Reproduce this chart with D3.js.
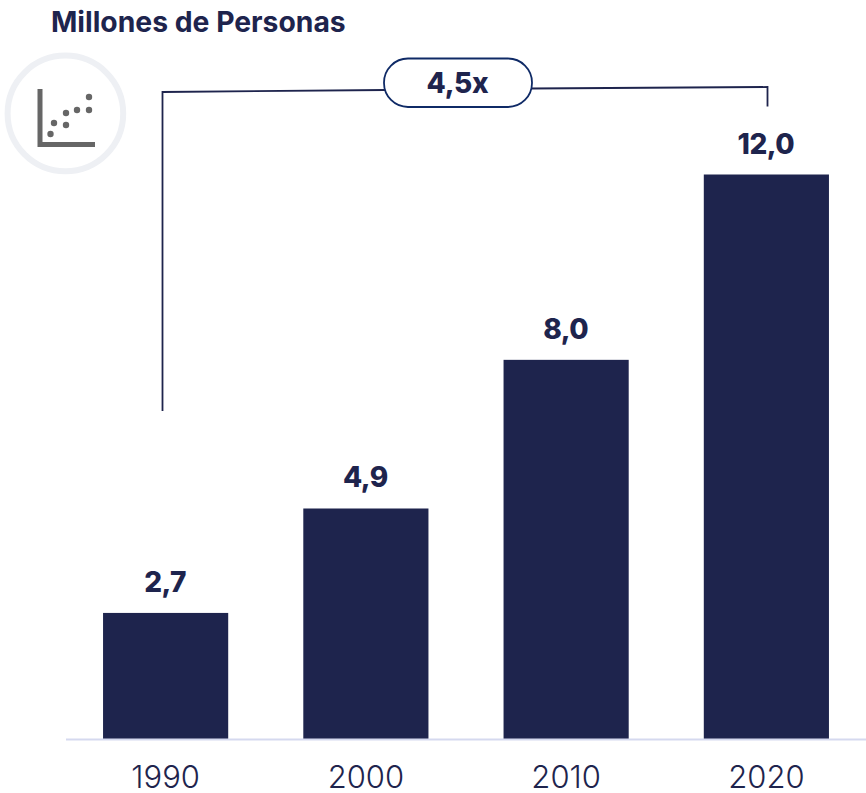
<!DOCTYPE html>
<html>
<head>
<meta charset="utf-8">
<script src="https://cdn.jsdelivr.net/npm/d3@7"></script>
<style>
  html, body { margin: 0; padding: 0; background: #fff; }
  svg { display: block; font-family: Inter, "Noto Sans", sans-serif; }
</style>
</head>
<body>
<div id="wrapper"></div>
<script>
const years = ['1990', '2000', '2010', '2020'];
const values = [2.68, 4.9, 8.06, 12.0];
const valueLabels = ['2,7', '4,9', '8,0', '12,0'];
const chartTitle = 'Millones de Personas';
const multipleLabel = '4,5x';

const navy = '#1e244d';
const width = 866;
const height = 793;
const baseline = 739;

const svg = d3.select('#wrapper')
  .append('svg')
  .attr('width', width)
  .attr('height', height);

// schalen
const xscale = d3.scaleBand()
  .domain(years)
  .range([65.5, 866.5])
  .paddingInner(0.375)
  .paddingOuter(0.1875);

const yscale = d3.scaleLinear()
  .domain([0, 12])
  .range([baseline, 174.5]);

const rows = years.map((year, i) => ({year, value: values[i], label: valueLabels[i]}));

// titel
svg.append('text')
  .attr('x', 51)
  .attr('y', 32)
  .attr('font-size', 28.3)
  .attr('font-weight', 700)
  .attr('fill', navy)
  .text(chartTitle);

// icoon
const icon = svg.append('g');
icon.append('circle')
  .attr('cx', 65.4).attr('cy', 113.4).attr('r', 57.8)
  .attr('fill', 'none').attr('stroke', '#eef0f4').attr('stroke-width', 6);
icon.append('path')
  .attr('d', 'M40 89V144.5H95')
  .attr('fill', 'none').attr('stroke', '#666').attr('stroke-width', 5);
icon.selectAll('circle.dot')
  .data([[50.5, 134], [54, 123], [66, 125], [66, 113], [77, 110], [89, 110], [89, 97]])
  .join('circle')
  .attr('class', 'dot')
  .attr('cx', d => d[0]).attr('cy', d => d[1]).attr('r', 3.2)
  .attr('fill', '#666');

// balken
svg.selectAll('rect.bar')
  .data(rows)
  .join('rect')
  .attr('class', 'bar')
  .attr('x', d => xscale(d.year))
  .attr('y', d => yscale(d.value))
  .attr('width', xscale.bandwidth())
  .attr('height', d => baseline - yscale(d.value))
  .attr('fill', navy);

// waarden boven de balken
svg.selectAll('text.value')
  .data(rows)
  .join('text')
  .attr('class', 'value')
  .attr('x', d => xscale(d.year) + xscale.bandwidth() / 2 - 0.5)
  .attr('y', d => yscale(d.value) - 21)
  .attr('text-anchor', 'middle')
  .attr('font-size', 28)
  .attr('font-weight', 800)
  .attr('letter-spacing', '-0.5')
  .attr('fill', navy)
  .text(d => d.label);

// x-as
const xaxis = d3.axisBottom(xscale).tickSize(0).tickPadding(27);
const g_xaxis = svg.append('g')
  .attr('transform', `translate(0,${baseline})`)
  .call(xaxis);
g_xaxis.select('.domain')
  .attr('stroke', '#d5d9ef')
  .attr('stroke-width', 2);
g_xaxis.selectAll('text')
  .attr('font-family', 'Inter, "Noto Sans", sans-serif')
  .attr('font-size', 31)
  .attr('font-weight', 300)
  .attr('fill', navy);

// haak met de vermenigvuldiging
const bracket = svg.append('g')
  .attr('fill', 'none')
  .attr('stroke', navy)
  .attr('stroke-width', 1.8);
bracket.append('path').attr('d', 'M162.5 411V92L385 90');
bracket.append('path').attr('d', 'M531 88.5L767.5 87V106.5');

svg.append('rect')
  .attr('x', 384).attr('y', 58.5)
  .attr('width', 148).attr('height', 48.5)
  .attr('rx', 24)
  .attr('fill', '#fff')
  .attr('stroke', '#0f2a66')
  .attr('stroke-width', 1.8);

svg.append('text')
  .attr('x', 457.5)
  .attr('y', 93)
  .attr('text-anchor', 'middle')
  .attr('font-size', 28)
  .attr('font-weight', 800)
  .attr('letter-spacing', '-0.3')
  .attr('fill', navy)
  .text(multipleLabel);
</script>
</body>
</html>
